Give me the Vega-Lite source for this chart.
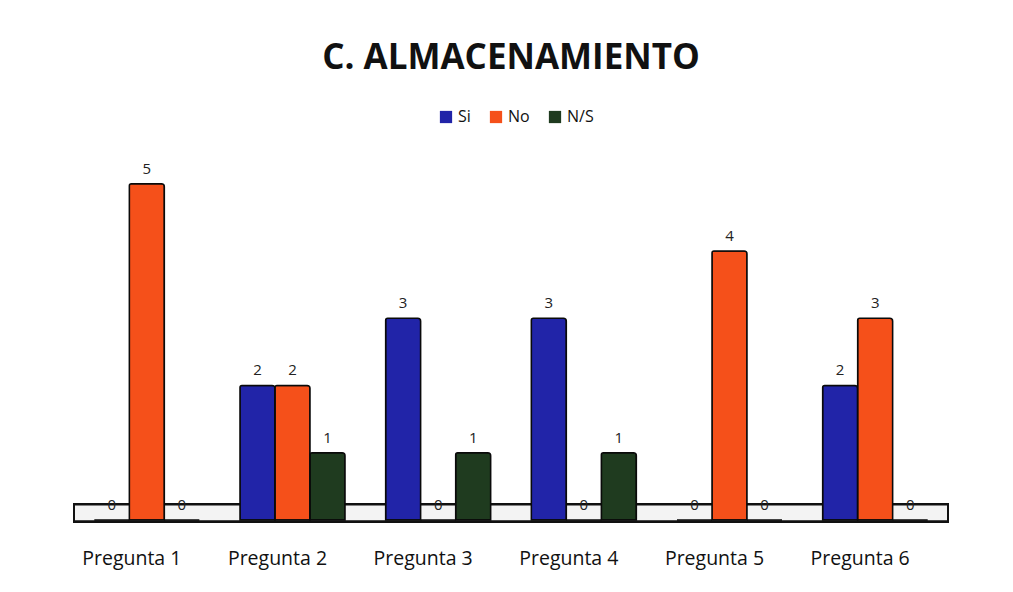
{
  "$schema": "https://vega.github.io/schema/vega-lite/v6.json",
  "width": 874,
  "height": 370,
  "autosize": {"type": "none"},
  "padding": {"left": 74, "top": 150, "right": 65, "bottom": 72},
  "background": "white",
  "title": {
    "text": "C. ALMACENAMIENTO",
    "font": "Open Sans",
    "fontSize": 35,
    "fontWeight": "bold",
    "color": "#111111",
    "anchor": "middle",
    "offset": 33
  },
  "data": {
    "values": [
      {"pregunta": "Pregunta 1", "respuesta": "Si", "cantidad": 0},
      {"pregunta": "Pregunta 1", "respuesta": "No", "cantidad": 5},
      {"pregunta": "Pregunta 1", "respuesta": "N/S", "cantidad": 0},
      {"pregunta": "Pregunta 2", "respuesta": "Si", "cantidad": 2},
      {"pregunta": "Pregunta 2", "respuesta": "No", "cantidad": 2},
      {"pregunta": "Pregunta 2", "respuesta": "N/S", "cantidad": 1},
      {"pregunta": "Pregunta 3", "respuesta": "Si", "cantidad": 3},
      {"pregunta": "Pregunta 3", "respuesta": "No", "cantidad": 0},
      {"pregunta": "Pregunta 3", "respuesta": "N/S", "cantidad": 1},
      {"pregunta": "Pregunta 4", "respuesta": "Si", "cantidad": 3},
      {"pregunta": "Pregunta 4", "respuesta": "No", "cantidad": 0},
      {"pregunta": "Pregunta 4", "respuesta": "N/S", "cantidad": 1},
      {"pregunta": "Pregunta 5", "respuesta": "Si", "cantidad": 0},
      {"pregunta": "Pregunta 5", "respuesta": "No", "cantidad": 4},
      {"pregunta": "Pregunta 5", "respuesta": "N/S", "cantidad": 0},
      {"pregunta": "Pregunta 6", "respuesta": "Si", "cantidad": 2},
      {"pregunta": "Pregunta 6", "respuesta": "No", "cantidad": 3},
      {"pregunta": "Pregunta 6", "respuesta": "N/S", "cantidad": 0}
    ]
  },
  "encoding": {
    "x": {
      "field": "pregunta",
      "type": "nominal",
      "scale": {"paddingInner": 0, "paddingOuter": 0},
      "axis": {
        "title": null,
        "labelAngle": 0,
        "labelFont": "Open Sans",
        "labelFontSize": 19.5,
        "labelColor": "#111111",
        "labelPadding": 29,
        "labelOffset": -15,
        "domain": false,
        "ticks": false
      }
    },
    "y": {
      "field": "cantidad",
      "type": "quantitative",
      "scale": {"domain": [0, 5.5], "nice": false},
      "axis": null
    }
  },
  "layer": [
    {
      "mark": {"type": "rect", "fill": "#f3f3f3", "stroke": "#111111", "strokeWidth": 2},
      "encoding": {
        "x": null,
        "y": {"datum": -0.02, "type": "quantitative"},
        "y2": {"datum": 0.23}
      }
    },
    {
      "mark": {"type": "bar", "stroke": "#0a0a0a", "strokeWidth": 1.5, "cornerRadiusTopRight": 3, "cornerRadiusTopLeft": 2},
      "encoding": {
        "xOffset": {
          "field": "respuesta",
          "type": "nominal",
          "sort": ["Si", "No", "N/S"],
          "scale": {"paddingInner": 0, "paddingOuter": 0.58}
        },
        "color": {
          "field": "respuesta",
          "type": "nominal",
          "sort": ["Si", "No", "N/S"],
          "scale": {"domain": ["Si", "No", "N/S"], "range": ["#2124a8", "#f5501a", "#1f3b1f"]},
          "legend": {
            "title": null,
            "orient": "none",
            "legendX": 364,
            "legendY": -41,
            "direction": "horizontal",
            "symbolType": "square",
            "symbolSize": 150,
            "symbolStrokeWidth": 0,
            "labelFont": "Open Sans",
            "labelFontSize": 16,
            "labelColor": "#111111",
            "columnPadding": 17
          }
        }
      }
    },
    {
      "mark": {"type": "text", "dy": -15, "font": "Open Sans", "fontSize": 15, "color": "#222222"},
      "encoding": {
        "xOffset": {
          "field": "respuesta",
          "type": "nominal",
          "sort": ["Si", "No", "N/S"],
          "scale": {"paddingInner": 0, "paddingOuter": 0.58}
        },
        "text": {"field": "cantidad", "type": "quantitative"}
      }
    }
  ],
  "config": {"view": {"stroke": null}}
}
